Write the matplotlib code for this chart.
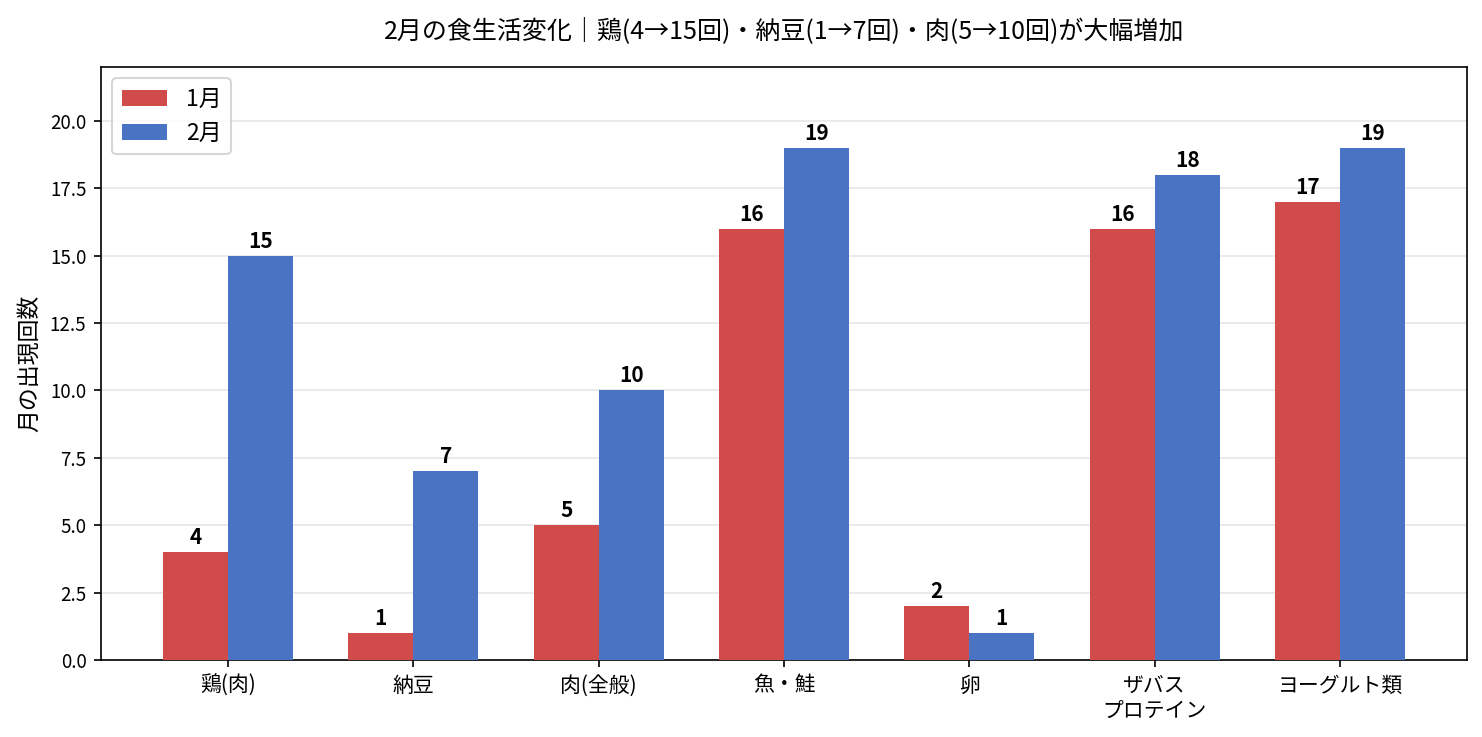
import matplotlib
matplotlib.use("Agg")
import matplotlib.pyplot as plt
import numpy as np

plt.rcParams['font.family'] = ['Noto Sans CJK JP', 'DejaVu Sans']

categories = ["鶏(肉)", "納豆", "肉(全般)", "魚・鮭", "卵", "ザバス\nプロテイン", "ヨーグルト類"]
jan = [4, 1, 5, 16, 2, 16, 17]
feb = [15, 7, 10, 19, 1, 18, 19]

fig = plt.figure(figsize=(14.82/1.5, 7.37/1.5), dpi=150)
ax = fig.add_axes([101/1482, 1-660/737, (1467-101)/1482, (660-67)/737])

x = np.arange(len(categories))
w = 0.35
b1 = ax.bar(x - w/2, jan, w, color="#d14b4b", label="1月", zorder=3)
b2 = ax.bar(x + w/2, feb, w, color="#4b73c4", label="2月", zorder=3)
for bars in (b1, b2):
    ax.bar_label(bars, padding=2, fontsize=10, fontweight='bold')

ax.set_ylim(0, 22)
ax.set_yticks(np.arange(0, 20.1, 2.5))
ax.set_yticklabels([f"{v:.1f}" for v in np.arange(0, 20.1, 2.5)], fontsize=9)
ax.set_xticks(x)
ax.set_xticklabels(categories, fontsize=10)
ax.set_ylabel("月の出現回数", fontsize=11)
ax.yaxis.grid(True, color="#e6e6e6", linewidth=0.8, zorder=0)
ax.set_axisbelow(True)
ax.legend(loc="upper left", fontsize=11)
ax.set_title("2月の食生活変化｜鶏(4→15回)・納豆(1→7回)・肉(5→10回)が大幅増加", fontsize=12, pad=14)

fig.savefig("out.png", dpi=150)
